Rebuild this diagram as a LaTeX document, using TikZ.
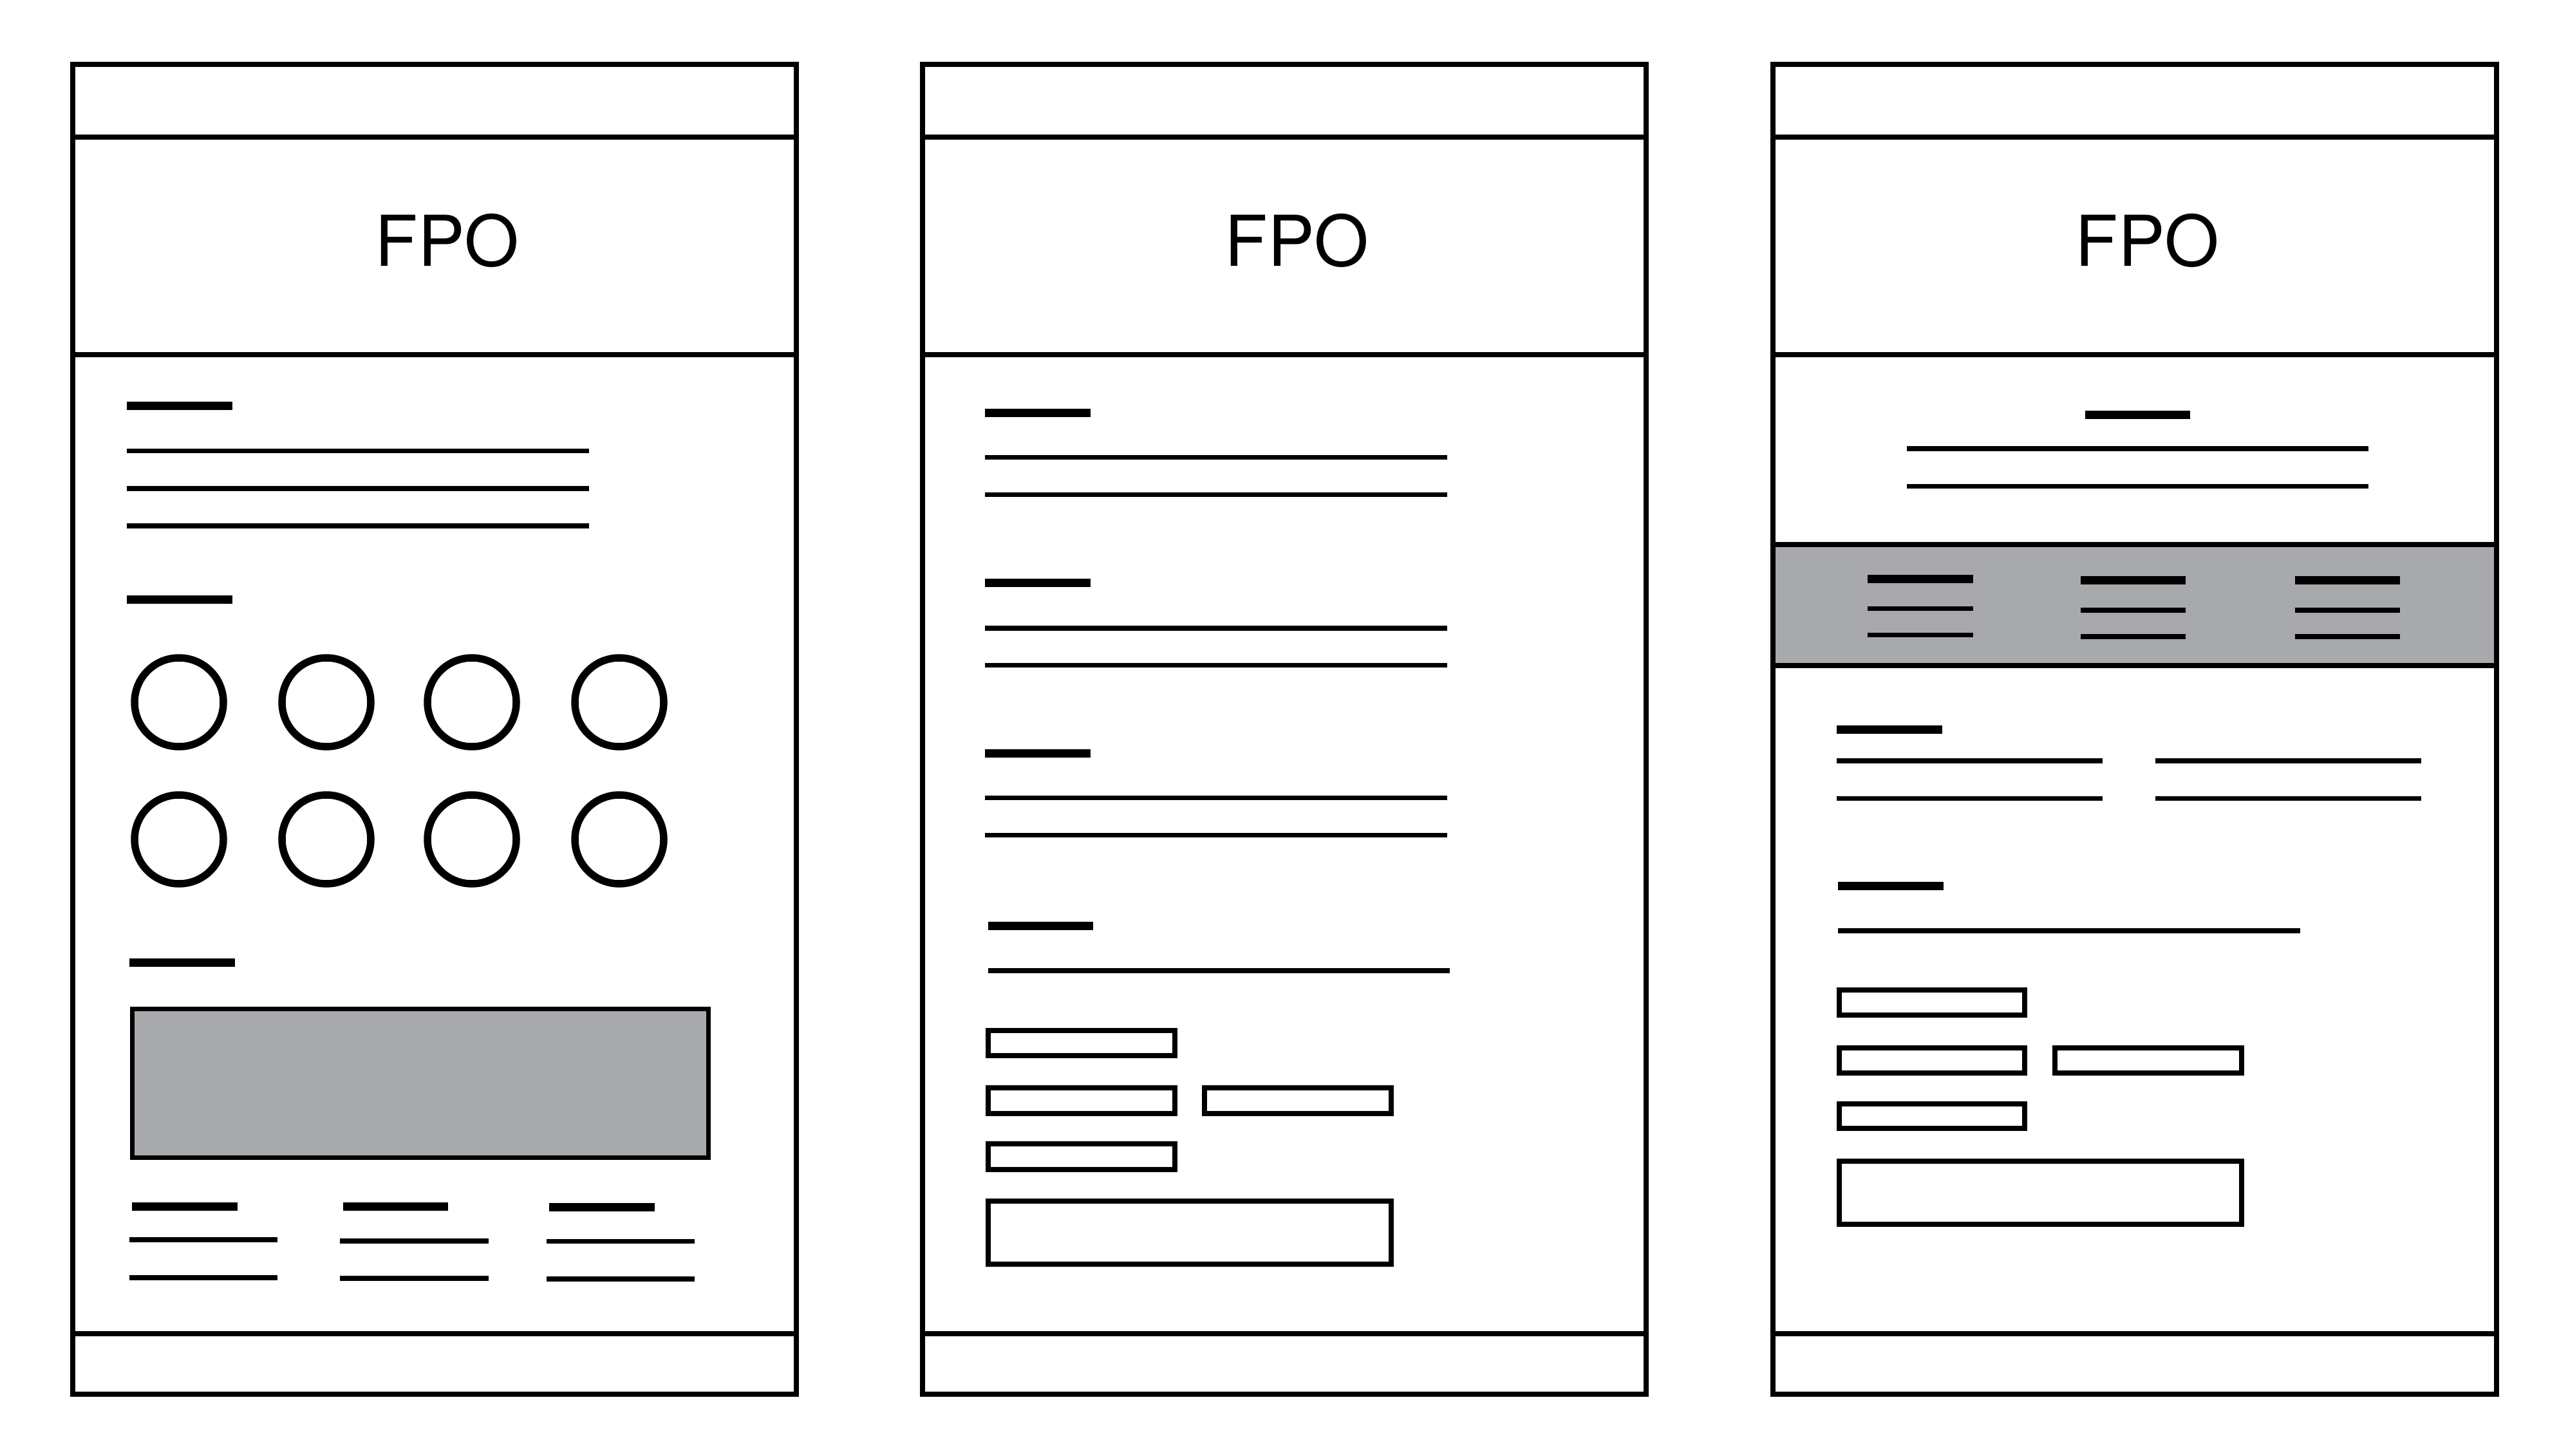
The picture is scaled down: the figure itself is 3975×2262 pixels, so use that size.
\documentclass[tikz,border=0pt]{standalone}
\usepackage{fontspec}
\setmainfont{TeX Gyre Heros}
\definecolor{fpogray}{RGB}{167,169,172}
\begin{document}
\begin{tikzpicture}[x=0.1mm,y=-0.1mm,
  frame/.style={line width=0.8mm},
  rule/.style={line width=0.75mm},
  headbar/.style={line width=1.3mm},
  ring/.style={line width=1.15mm},
  field/.style={line width=0.8mm},
  photo/.style={line width=0.7mm, fill=fpogray},
  band/.style={fill=fpogray},
  fpo/.style={font=\fontsize{31}{31}\selectfont, inner sep=0pt}]
\useasboundingbox (0,0) rectangle (3975,2262);
\fill[white] (0,0) rectangle (3975,2262);

% gray feature band of the third page (under its frame lines)
\begin{scope}[shift={(2754,0)}]
  \fill[band] (0,846) rectangle (1124,1033.6);
  \draw[frame] (0,846) -- (1124,846);
  \draw[frame] (0,1033.6) -- (1124,1033.6);
\end{scope}

% page shells: outline, top bar, hero area, footer
\foreach \x/\n in {113/A,1433/B,2754/C}{
  \begin{scope}[shift={(\x,0)}]
    \draw[frame] (0,100) rectangle (1124,2165.6);
    \draw[frame] (0,213) -- (1124,213);
    \draw[frame] (0,551) -- (1124,551);
    \draw[frame] (0,2072) -- (1124,2072);
    \node[fpo] (fpo\n) at (581.5,374) {FPO};
  \end{scope}
}

% page 1: text, icon grid, image, three columns
\begin{scope}[shift={(113,0)}]
  \foreach \y in {631,931} \draw[headbar] (84,\y) -- (248,\y);
  \foreach \y in {700.6,759,817} \draw[rule] (84,\y) -- (802,\y);
  \foreach \cx in {165,394,620,849}
    \foreach \cy in {1091,1304}
      \draw[ring] (\cx,\cy) circle[radius=6.9mm];
  \draw[headbar] (88,1495) -- (252,1495);
  \draw[photo] (92.5,1567.5) rectangle (987.5,1798.5);
  \draw[headbar] (92,1874) -- (256,1874);
  \draw[headbar] (420,1874.5) -- (583,1874.5);
  \draw[headbar] (740,1875) -- (904,1875);
  \draw[rule] (88,1926) -- (318,1926);
  \draw[rule] (88,1985) -- (318,1985);
  \draw[rule] (415,1928) -- (646,1928);
  \draw[rule] (415,1986) -- (646,1986);
  \draw[rule] (736,1928.5) -- (966,1928.5);
  \draw[rule] (736,1987) -- (966,1987);
\end{scope}

% page 2: text sections and a form
\begin{scope}[shift={(1433,0)}]
  \foreach \y in {641.5,905,1170} \draw[headbar] (97,\y) -- (261,\y);
  \foreach \y in {710.7,768.4,976,1033.6,1239.7,1297.3} \draw[rule] (97,\y) -- (815,\y);
  \draw[headbar] (102,1438.6) -- (265,1438.6);
  \draw[rule] (102,1507.8) -- (819,1507.8);
  \draw[field] (102,1601) rectangle (392,1640);
  \draw[field] (102,1690) rectangle (392,1730);
  \draw[field] (438,1690) rectangle (728,1730);
  \draw[field] (102,1777) rectangle (392,1817);
  \draw[field] (102,1866) rectangle (728,1964);
\end{scope}

% page 3: centred intro, feature band, two-column text, form
\begin{scope}[shift={(2754,0)}]
  \draw[headbar] (485,645) -- (648,645);
  \foreach \y in {697,755.4} \draw[rule] (208,\y) -- (925,\y);
  \draw[headbar] (147,899.5) -- (311,899.5);
  \draw[rule] (147,945.6) -- (311,945.6);
  \draw[rule] (147,986.7) -- (311,986.7);
  \foreach \cx in {478,811}{
    \draw[headbar] (\cx,901.7) -- ({\cx+163},901.7);
    \draw[rule] (\cx,947.8) -- ({\cx+163},947.8);
    \draw[rule] (\cx,989) -- ({\cx+163},989);
  }
  \draw[headbar] (99,1133.7) -- (263,1133.7);
  \foreach \y in {1182,1240.4}{
    \draw[rule] (99,\y) -- (512,\y);
    \draw[rule] (594,\y) -- (1007,\y);
  }
  \draw[headbar] (101,1376.6) -- (265,1376.6);
  \draw[rule] (101,1445.8) -- (819,1445.8);
  \draw[field] (103,1538.4) rectangle (391,1576.6);
  \draw[field] (103,1628.4) rectangle (391,1666.5);
  \draw[field] (438,1628.4) rectangle (728,1666.5);
  \draw[field] (103,1715) rectangle (391,1753);
  \draw[field] (103,1803.5) rectangle (728,1901.5);
\end{scope}
\end{tikzpicture}
\end{document}
